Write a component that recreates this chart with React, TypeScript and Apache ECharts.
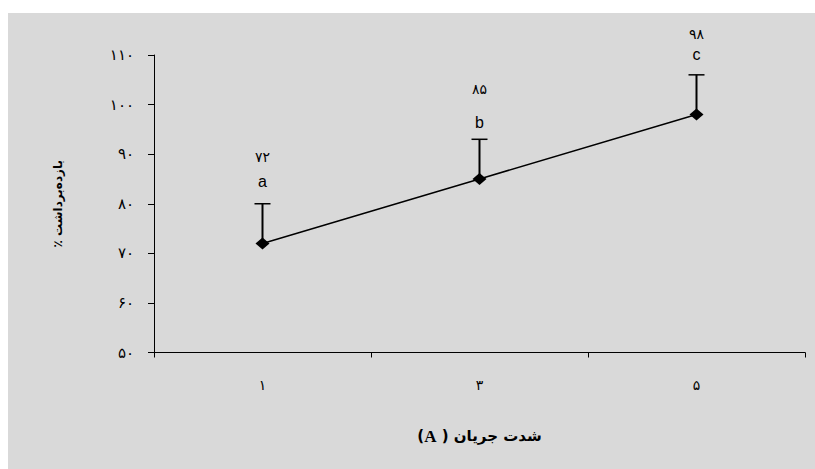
import React, { useEffect, useRef } from "react";
import * as echarts from "echarts";

const categories = ["۱", "۳", "۵"];
const efficiency = [72, 85, 98];
const errorUp = [8, 8, 8];
const groupLetters = ["a", "b", "c"];
const valueLabels = ["۷۲", "۸۵", "۹۸"];
const yTickValues = [50, 60, 70, 80, 90, 100, 110];
const yTickLabels = ["۵۰", "۶۰", "۷۰", "۸۰", "۹۰", "۱۰۰", "۱۱۰"];
const xTitleUnit = "A";
const xTitleText = "شدت جریان";
const yTitle = "٪ بازده‌برداشت";

// label layout (pixels above the error-bar cap)
const letterOffsets = [22, 17, 20];
const numberOffsets = [47, 50, 41];

const FA_FONT = "'DejaVu Sans', sans-serif";

export default function App() {
  const ref = useRef<HTMLDivElement>(null);
  useEffect(() => {
    if (!ref.current) return;
    const chart = echarts.init(ref.current, undefined, { renderer: "svg" });
    const errData = efficiency.map((v, i) => [i, v, errorUp[i]]);
    chart.setOption({
      animation: false,
      backgroundColor: "#d9d9d9",
      grid: { left: 146, right: 10, top: 42, bottom: 116.5, containLabel: false },
      xAxis: {
        type: "category",
        data: categories,
        boundaryGap: true,
        axisLine: { lineStyle: { color: "#000", width: 1 } },
        axisTick: { show: true, length: 5, alignWithLabel: false, lineStyle: { color: "#000" } },
        axisLabel: { color: "#000", fontSize: 14, fontFamily: FA_FONT, margin: 25 },
        splitLine: { show: false },
        name: `{p|(}{a|${xTitleUnit}}{p| ) ${xTitleText}}`,
        nameLocation: "middle",
        nameGap: 75,
        nameTextStyle: {
          color: "#000",
          fontSize: 15,
          fontWeight: "bold",
          fontFamily: FA_FONT,
          rich: {
            p: { fontSize: 15, fontWeight: "bold", fontFamily: FA_FONT, color: "#000" },
            a: {
              fontSize: 17,
              fontWeight: "bold",
              fontFamily: "'Liberation Serif', 'DejaVu Serif', serif",
              color: "#000",
            },
          },
        },
      },
      yAxis: {
        type: "value",
        min: 50,
        max: 110,
        interval: 10,
        axisLine: { show: true, lineStyle: { color: "#000", width: 1 } },
        axisTick: { show: true, length: 6, inside: false, lineStyle: { color: "#000" } },
        axisLabel: {
          color: "#000",
          fontSize: 15,
          fontFamily: FA_FONT,
          margin: 20,
          formatter: (val: number) => {
            const idx = yTickValues.indexOf(val);
            return idx >= 0 ? yTickLabels[idx] : "";
          },
        },
        splitLine: { show: false },
        name: yTitle,
        nameLocation: "middle",
        nameRotate: 90,
        nameGap: 90,
        nameTextStyle: {
          color: "#000",
          fontSize: 12,
          fontWeight: "bold",
          fontFamily: FA_FONT,
        },
      },
      series: [
        {
          type: "custom",
          z: 1,
          data: errData,
          renderItem: (params: any, api: any) => {
            const i = params.dataIndex;
            const v = api.value(1);
            const e = api.value(2);
            const base = api.coord([i, v]);
            const top = api.coord([i, v + e]);
            return {
              type: "group",
              children: [
                {
                  type: "line",
                  shape: { x1: base[0], y1: base[1], x2: top[0], y2: top[1] },
                  style: { stroke: "#000", lineWidth: 2 },
                },
                {
                  type: "line",
                  shape: { x1: top[0] - 8, y1: top[1], x2: top[0] + 8, y2: top[1] },
                  style: { stroke: "#000", lineWidth: 1.5 },
                },
                {
                  type: "text",
                  x: top[0],
                  y: top[1] - letterOffsets[i],
                  style: {
                    text: groupLetters[i],
                    fill: "#000",
                    fontSize: 16,
                    fontFamily: "'Liberation Sans', Arial, sans-serif",
                    align: "center",
                    verticalAlign: "middle",
                  },
                },
                {
                  type: "text",
                  x: top[0],
                  y: top[1] - numberOffsets[i],
                  style: {
                    text: valueLabels[i],
                    fill: "#000",
                    fontSize: 14,
                    fontFamily: FA_FONT,
                    align: "center",
                    verticalAlign: "middle",
                  },
                },
              ],
            };
          },
        },
        {
          type: "line",
          z: 3,
          data: efficiency,
          symbol: "diamond",
          symbolSize: [14, 12],
          itemStyle: { color: "#000" },
          lineStyle: { color: "#000", width: 1.5 },
          label: { show: false },
        },
      ],
    });
    return () => chart.dispose();
  }, []);
  return (
    <div
      ref={ref}
      style={{ position: "absolute", left: 8, top: 13, width: 807, height: 456 }}
    />
  );
}
